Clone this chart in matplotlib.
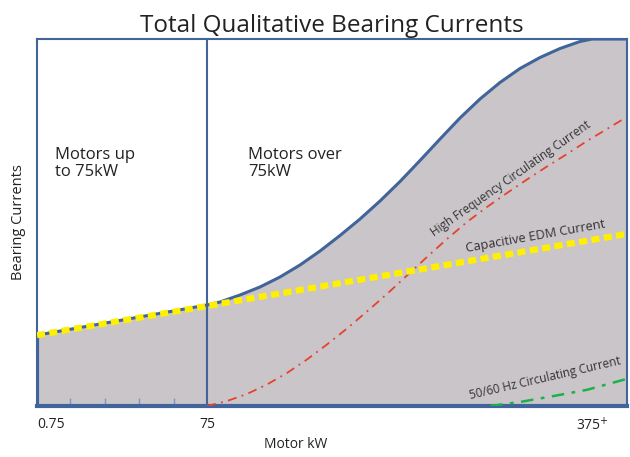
import numpy as np
import matplotlib.pyplot as plt

# qualitative scale: x 0..100 (0.75 kW .. 375+ kW), y 0..100
env_x = [0, 28.81, 31.02, 34.41, 37.80, 41.19, 44.58, 47.97, 51.36, 54.75, 58.14,
         61.53, 64.92, 68.31, 71.69, 75.08, 78.47, 81.86, 85.25, 88.64, 92.03, 94.07, 100]
env_y = [19.3, 27.52, 28.34, 30.25, 32.43, 35.15, 38.42, 42.23, 46.46, 50.95, 55.86,
         61.17, 66.89, 72.75, 78.47, 83.65, 88.15, 91.96, 94.96, 97.41, 99.32, 100, 100]

edm_x = [0, 100]
edm_y = [19.3, 46.9]

hf_x = [28.81, 32.20, 35.59, 38.98, 42.37, 45.76, 49.15, 52.54, 55.93, 59.32, 62.71,
        66.10, 69.49, 72.88, 76.27, 79.66, 83.05, 86.44, 89.83, 93.22, 96.61, 99.66]
hf_y = [0.0, 1.36, 3.27, 5.86, 8.99, 12.67, 16.76, 21.12, 25.75, 30.52, 35.56,
        40.60, 45.50, 50.14, 54.22, 58.04, 61.72, 65.26, 68.66, 72.21, 75.48, 78.47]

lf_x = [76.8, 81.9, 87.5, 93.2, 100]
lf_y = [0.0, 1.1, 2.7, 4.4, 7.4]

tick_pos = [0, 28.8, 94.2]
tick_lab = ["0.75", "75", "375$^{+}$"]
minor_pos = [5.6, 11.5, 17.3, 23.2]
divider = 28.8

BLUE = "#41649a"
FILL = "#c9c5c9"
TXT = "#222222"

plt.rcParams["font.family"] = ["Open Sans", "DejaVu Sans"]

fig = plt.figure(figsize=(6.3, 4.57), dpi=100)
ax = fig.add_axes([0.0587, 0.1116, 0.9365, 0.803])
ax.set_xlim(0, 100)
ax.set_ylim(0, 100)

ax.fill_between(env_x, env_y, 0, color=FILL, lw=0, zorder=1)
ax.plot(env_x, env_y, color=BLUE, lw=2.2, zorder=3, solid_joinstyle="round")
ax.axvline(divider, color=BLUE, lw=1.5, zorder=2)
ax.plot([0, 0], [0, env_y[0]], color=BLUE, lw=3, zorder=4)

ax.plot(edm_x, edm_y, color="#fff000", lw=4.5, ls=(0, (1.3, 0.7)), zorder=5)
ax.plot(hf_x, hf_y, color="#e8412e", lw=1.3, ls=(0, (5, 3, 1, 3)), zorder=4)
ax.plot(lf_x, lf_y, color="#1bb24b", lw=1.8, ls=(0, (5, 3, 1.5, 3)), zorder=4)

for s in ax.spines.values():
    s.set_color(BLUE)
    s.set_linewidth(1.5)
ax.spines["bottom"].set_linewidth(3)

ax.set_xticks(tick_pos)
ax.set_xticklabels(tick_lab, fontsize=10, color=TXT)
ax.get_xticklabels()[0].set_ha("left")
ax.tick_params(axis="x", length=0, pad=8)
ax.set_xticks(minor_pos, minor=True)
ax.tick_params(axis="x", which="minor", direction="in", length=6, width=1, color="#7b98c4")
ax.set_yticks([])

ax.set_xlabel("Motor kW", fontsize=10, color=TXT, labelpad=4)
ax.xaxis.set_label_coords(0.439, -0.085)
ax.set_ylabel("Bearing Currents", fontsize=10.5, color=TXT, labelpad=8)
ax.set_title("Total Qualitative Bearing Currents", fontsize=17.5, color=TXT, pad=5)

ax.text(3.05, 70.5, "Motors up\nto 75kW", fontsize=12, color=TXT, va="top", linespacing=1.05)
ax.text(35.8, 70.5, "Motors over\n75kW", fontsize=12, color=TXT, va="top", linespacing=1.05)

ax.text(67.6, 45.6, "High Frequency Circulating Current", fontsize=8.5, color="#333333",
        rotation=35, rotation_mode="anchor", ha="left", va="bottom")
ax.text(72.9, 41.2, "Capacitive EDM Current", fontsize=9.2, color="#333333",
        rotation=10, rotation_mode="anchor", ha="left", va="bottom")
ax.text(73.6, 1.0, "50/60 Hz Circulating Current", fontsize=8.5, color="#333333",
        rotation=13, rotation_mode="anchor", ha="left", va="bottom")

fig.savefig("out.png", dpi=100)
